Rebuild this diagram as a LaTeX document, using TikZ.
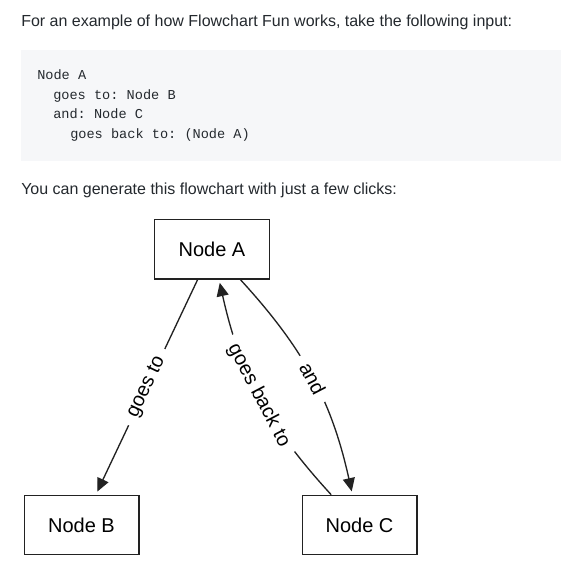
\documentclass[tikz,border=0pt]{standalone}
\usepackage{fontspec}
\setmainfont{Liberation Sans}
\setmonofont{Liberation Mono}
\usetikzlibrary{arrows.meta}

\definecolor{codebg}{HTML}{F6F7F9}
\definecolor{inktext}{HTML}{24292E}
\definecolor{inkline}{HTML}{222222}

\tikzset{
  prose/.style={anchor=base west, inner sep=0pt, text=inktext, font=\fontsize{12}{14}\selectfont},
  codeline/.style={anchor=base west, inner sep=0pt, text=inktext, font=\ttfamily\fontsize{10.2}{12}\selectfont},
  chartnode/.style={draw=inkline, line width=1pt, minimum width=86pt, minimum height=44.5pt, font=\fontsize{15}{17}\selectfont},
  edge/.style={draw=inkline, line width=1pt, -{Triangle[length=10pt,width=9pt]}, shorten >=2.5pt},
  elabel/.style={sloped, fill=white, inner xsep=7pt, inner ysep=1pt, font=\fontsize{15}{17}\selectfont}
}

\begin{document}
\begin{tikzpicture}[x=0.75pt,y=-0.75pt]
  \useasboundingbox (0,0) rectangle (561,566);
  \fill[white] (0,0) rectangle (561,566);
  % text above the chart
  \node[prose] (intro) at (21,27) {For an example of how Flowchart Fun works, take the following input:};
  \fill[codebg] (21,50) rectangle (561,161);
  \node[codeline] (code1) at (37,79.5) {Node A};
  \node[codeline] (code2) at (53,99.3) {goes to: Node B};
  \node[codeline] (code3) at (53,119) {and: Node C};
  \node[codeline] (code4) at (70,138.7) {goes back to: (Node A)};
  \node[prose] (outro) at (21,194.5) {You can generate this flowchart with just a few clicks:};
  % the chart
  \node[chartnode] (A) at (212,249.25) {Node A};
  \node[chartnode] (B) at (81.5,525) {Node B};
  \node[chartnode] (C) at (359.5,525) {Node C};
  \draw[edge] (A) -- node[elabel] {goes to} (B);
  \draw[edge] (A) to[bend left=15] node[elabel] {and} (C);
  \draw[edge] (C) to[bend left=15] node[elabel] {goes back to} (A);
\end{tikzpicture}
\end{document}
